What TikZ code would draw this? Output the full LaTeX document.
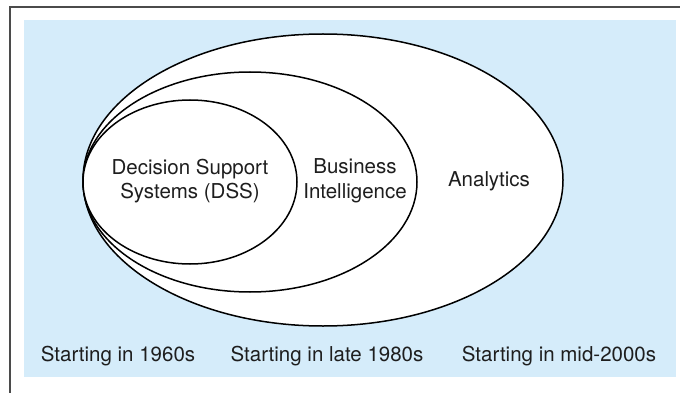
\documentclass[tikz,border=0pt]{standalone}
\usepackage{fontspec}
\setmainfont{TeX Gyre Heros}
\definecolor{bgblue}{RGB}{213,236,250}
\definecolor{framegray}{RGB}{75,75,75}
\definecolor{txt}{RGB}{30,30,30}
\begin{document}
\begin{tikzpicture}[x=1pt,y=-1pt,
  lab/.style={font=\fontsize{20.5}{24.5}\selectfont, text=txt, align=center, inner sep=0pt},
  ring/.style={draw=black, line width=1.5pt, fill=white}]
\useasboundingbox (0,0) rectangle (680,393);
\fill[bgblue] (24,20) rectangle (676,377);
\draw[framegray, line width=2pt] (10,393) -- (10,7) -- (680,7);
\draw[ring] (323,180) ellipse [x radius=240, y radius=146];
\draw[ring] (250,182) ellipse [x radius=167, y radius=110];
\draw[ring] (190,182) ellipse [x radius=107, y radius=82];
\node[lab] (dss) at (190,181) {Decision Support\\Systems (DSS)};
\node[lab] (bi) at (355,181) {Business\\Intelligence};
\node[lab] (an) at (489,181) {Analytics};
\node[lab] (t1) at (118,356) {Starting in 1960s};
\node[lab] (t2) at (327,356) {Starting in late 1980s};
\node[lab] (t3) at (559,356) {Starting in mid-2000s};
\end{tikzpicture}
\end{document}
